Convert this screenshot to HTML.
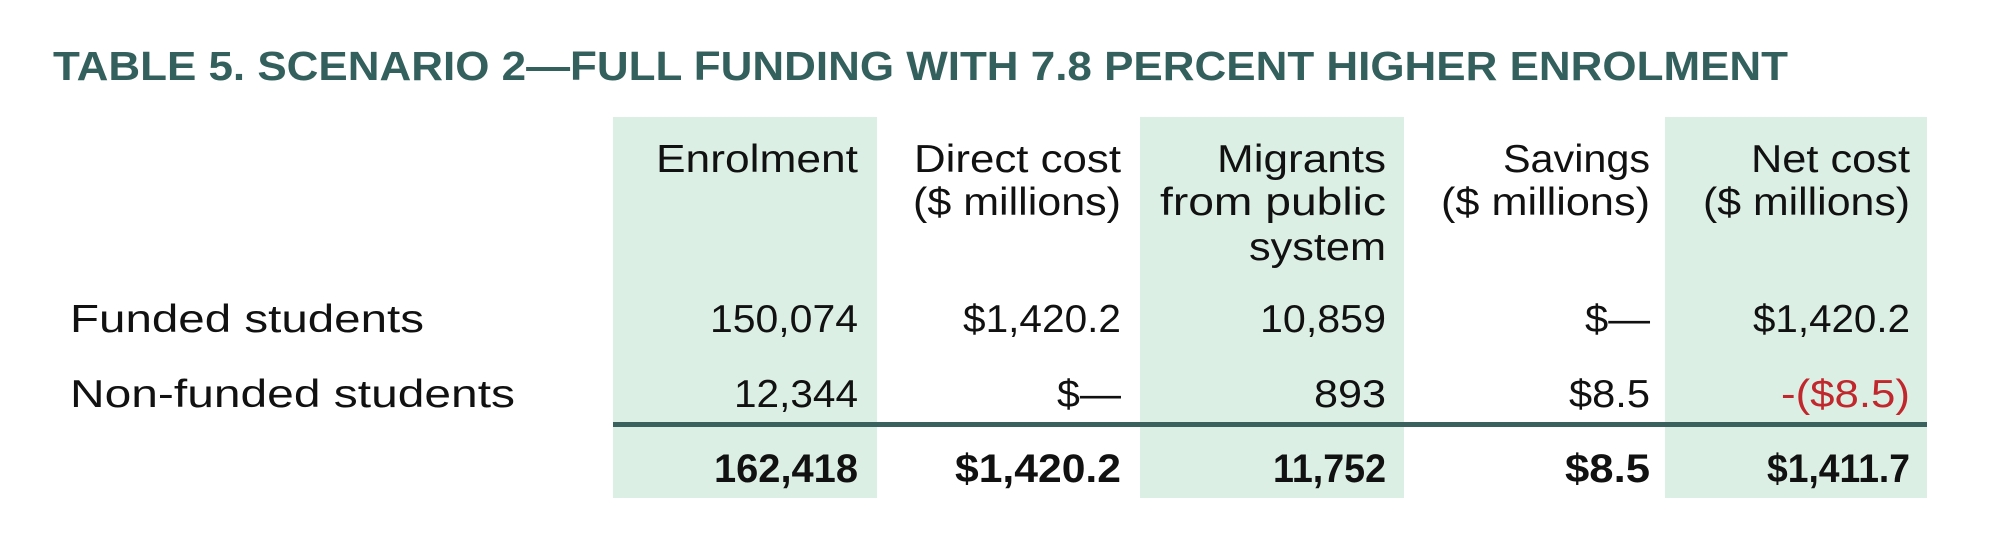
<!DOCTYPE html>
<html><head><meta charset="utf-8"><style>
html,body{margin:0;padding:0;background:#fff;}
svg{display:block;}
text{font-family:"Liberation Sans",sans-serif;}
</style></head><body>
<svg width="1991" height="551" viewBox="0 0 1991 551" xmlns="http://www.w3.org/2000/svg">
<rect x="613" y="117" width="264" height="381" fill="#dcefe4"/>
<rect x="1140" y="117" width="264" height="381" fill="#dcefe4"/>
<rect x="1665" y="117" width="262" height="381" fill="#dcefe4"/>
<rect x="613" y="422" width="1314" height="5" fill="#3a615d"/>
<text x="53" y="80" font-size="41" font-weight="bold" fill="#33605c" textLength="1735" lengthAdjust="spacingAndGlyphs">TABLE 5. SCENARIO 2—FULL FUNDING WITH 7.8 PERCENT HIGHER ENROLMENT</text>
<g font-size="39" fill="#111" text-anchor="end">
<text x="858" y="172" textLength="202" lengthAdjust="spacingAndGlyphs">Enrolment</text>
<text x="1121" y="172" textLength="207" lengthAdjust="spacingAndGlyphs">Direct cost</text>
<text x="1121" y="215" textLength="208" lengthAdjust="spacingAndGlyphs">($ millions)</text>
<text x="1386" y="172" textLength="169" lengthAdjust="spacingAndGlyphs">Migrants</text>
<text x="1386" y="215" textLength="226" lengthAdjust="spacingAndGlyphs">from public</text>
<text x="1386" y="260" textLength="137" lengthAdjust="spacingAndGlyphs">system</text>
<text x="1650" y="172" textLength="147" lengthAdjust="spacingAndGlyphs">Savings</text>
<text x="1650" y="215" textLength="209" lengthAdjust="spacingAndGlyphs">($ millions)</text>
<text x="1910" y="172" textLength="159" lengthAdjust="spacingAndGlyphs">Net cost</text>
<text x="1910" y="215" textLength="207" lengthAdjust="spacingAndGlyphs">($ millions)</text>
</g>
<g font-size="39" fill="#111">
<text x="70" y="332" textLength="354" lengthAdjust="spacingAndGlyphs">Funded students</text>
<text x="70" y="407" textLength="445" lengthAdjust="spacingAndGlyphs">Non-funded students</text>
</g>
<g font-size="39" fill="#111" text-anchor="end">
<text x="858" y="332" textLength="148" lengthAdjust="spacingAndGlyphs">150,074</text>
<text x="1121" y="332" textLength="158" lengthAdjust="spacingAndGlyphs">$1,420.2</text>
<text x="1386" y="332" textLength="126" lengthAdjust="spacingAndGlyphs">10,859</text>
<text x="1650" y="332" textLength="65" lengthAdjust="spacingAndGlyphs">$—</text>
<text x="1910" y="332" textLength="157" lengthAdjust="spacingAndGlyphs">$1,420.2</text>
<text x="858" y="407" textLength="124" lengthAdjust="spacingAndGlyphs">12,344</text>
<text x="1121" y="407" textLength="64" lengthAdjust="spacingAndGlyphs">$—</text>
<text x="1386" y="407" textLength="72" lengthAdjust="spacingAndGlyphs">893</text>
<text x="1650" y="407" textLength="81" lengthAdjust="spacingAndGlyphs">$8.5</text>
<text x="1910" y="407" fill="#c0282d" textLength="129" lengthAdjust="spacingAndGlyphs">-($8.5)</text>
</g>
<g font-size="40" font-weight="bold" fill="#111" text-anchor="end">
<text x="858" y="482" textLength="144" lengthAdjust="spacingAndGlyphs">162,418</text>
<text x="1121" y="482" textLength="166" lengthAdjust="spacingAndGlyphs">$1,420.2</text>
<text x="1386" y="482" textLength="113" lengthAdjust="spacingAndGlyphs">11,752</text>
<text x="1650" y="482" textLength="85" lengthAdjust="spacingAndGlyphs">$8.5</text>
<text x="1910" y="482" textLength="143" lengthAdjust="spacingAndGlyphs">$1,411.7</text>
</g>
</svg>
</body></html>
